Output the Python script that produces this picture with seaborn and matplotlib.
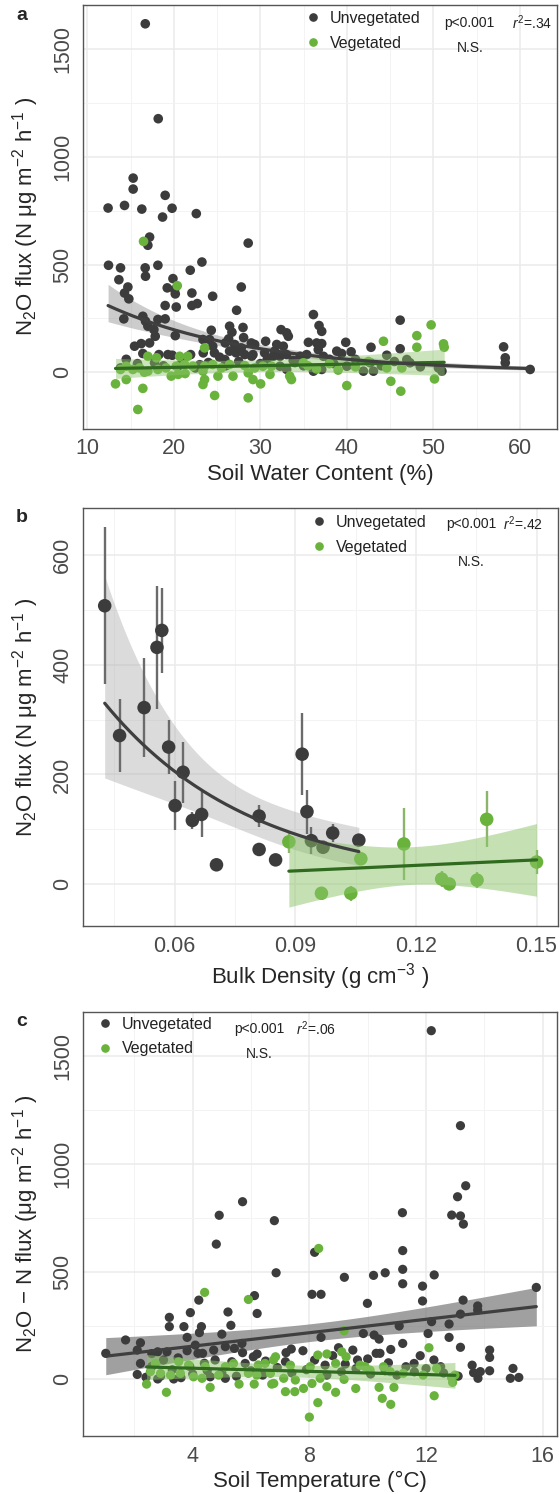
import numpy as np
import pandas as pd
import seaborn as sns
import matplotlib
matplotlib.use("Agg")
import matplotlib.pyplot as plt
from matplotlib.lines import Line2D

# ---------------- Panel a: Soil water content ----------------
a_unveg_x = [16.7, 18.2, 15.3, 15.3, 19.0, 12.4, 14.3, 16.3, 19.8, 18.7, 22.6, 17.2, 17.0, 28.6,
             12.45, 13.84, 16.69, 18.16, 16.73, 23.25, 21.9, 13.65, 19.9, 14.69, 14.3, 14.8, 19.24,
             20.09, 20.17, 22.09, 24.49, 27.8, 19.0, 20.28, 22.09, 22.71, 27.26, 14.22, 16.42, 16.73,
             17.0, 18.16, 19.0, 17.7, 17.85, 20.17, 24.33, 26.45, 28.0, 26.72, 26.34, 28.07, 28.96,
             30.62, 23.37, 24.14, 15.46, 16.23, 17.2, 24.5, 25.95, 27.03, 26.45, 27.8, 29.35, 16.42,
             18.28, 19.32, 19.82, 21.94, 23.4, 24.7, 27.2, 28.2, 29.15, 30.5, 31.66, 13.84, 17.77,
             20.5, 25.9, 29.0,
             36.14, 36.79, 37.1, 32.4, 33.05, 33.24, 31.9, 32.66, 35.56, 36.52, 37.1, 36.7, 39.88,
             38.84, 39.4, 42.8, 46.17, 46.17, 44.62, 46.94, 58.13, 58.32, 58.32, 61.2, 31.5, 32.28,
             33.05, 34.6, 35.36, 37.3, 32.28, 33.05, 36.14, 37.1, 40.0, 41.92, 42.7, 43.08, 47.3,
             50.6, 51.0, 38.0, 40.5, 34.0, 30.0, 26.0, 23.0,
             14.5, 15.8, 18.8, 21.0, 22.5, 24.0, 25.3, 27.5, 30.8, 33.8, 35.0, 38.5, 41.0, 44.0,
             45.5, 48.5]
a_unveg_y = [1619, 1178, 902, 851, 822, 763, 775, 758, 762, 721, 737, 628, 590, 600,
             497, 485, 485, 497, 446, 512, 474, 430, 435, 396, 368, 341, 392,
             384, 364, 368, 353, 396, 310, 303, 310, 319, 288, 248, 260, 237,
             214, 245, 248, 198, 167, 170, 195, 214, 208, 186, 155, 161, 136,
             144, 152, 152, 121, 133, 136, 121, 136, 129, 98, 113, 129, 87,
             82, 82, 79, 82, 90, 90, 90, 82, 82, 90, 98, 20, 44,
             28, 59, 74,
             268, 217, 190, 198, 183, 167, 129, 121, 139, 136, 133, 105, 139,
             98, 87, 116, 242, 109, 79, 59, 118, 67, 44, 13, 74, 74,
             82, 74, 82, 74, 28, 13, 5, 13, 28, 5, 44, 5, 44,
             20, 5, 60, 95, 45, 40, 30, 35,
             60, 40, 30, 55, 20, 45, 70, 50, 60, 55, 30, 40, 60, 30,
             50, 25]
a_veg_x = [16.5, 20.4, 17.0, 18.0, 20.67, 21.6, 23.56, 13.84, 14.5, 15.27, 16.04, 17.0, 18.16, 19.1,
           20.28, 21.25, 22.2, 23.56, 24.5, 25.5, 26.45, 28.2, 29.35, 30.3, 31.3, 13.26, 14.5, 16.6,
           19.7, 20.5, 21.3, 23.37, 25.1, 26.84, 28.6, 29.15, 30.04, 16.42, 23.37, 23.56, 24.72,
           28.6, 15.84, 44.24, 48.1, 49.75, 48.1, 51.18, 51.26, 44.62, 46.36, 34.98, 40.0, 33.6,
           33.4, 45.09, 46.24, 50.14, 31.12, 35.5, 38.0, 41.0, 42.5, 36.5, 39.0]
a_veg_y = [608, 402, 74, 67, 74, 74, 113, 13, 28, 13, 20, 5, 13, 20,
           28, 36, 28, 28, 36, 20, 36, 31, 20, 28, 28, -54, -34, 0,
           -18, -10, -6, 5, -18, -18, -3, -34, -54, -75, -57, -34, -108,
           -119, -173, 144, 170, 220, 116, 132, 116, 20, 20, 44, -62, -34,
           -18, -42, -88, -31, -10, 30, 40, 25, 50, 15, 10]

# ---------------- Panel b: Bulk density (means +/- error) ----------------
b_unveg_x = [0.0426, 0.0463, 0.0524, 0.0556, 0.0568, 0.0585, 0.0621, 0.0601, 0.0644, 0.0667,
             0.0704, 0.0810, 0.0810, 0.0851, 0.0917, 0.0929, 0.0940, 0.0969, 0.0993, 0.1058]
b_unveg_y = [508, 271, 322, 432, 463, 250, 204, 143, 116, 127, 35, 124, 63, 44, 237, 132, 79, 67, 93, 80]
b_unveg_err = [143, 67, 90, 112, 78, 50, 56, 45, 15, 42, 6, 20, 12, 5, 75, 40, 25, 12, 17, 10]
b_veg_x = [0.0884, 0.0965, 0.1038, 0.1063, 0.1170, 0.1264, 0.1283, 0.1352, 0.1376, 0.1500]
b_veg_y = [77, -17, -17, 46, 73, 9, 0, 7, 118, 40]
b_veg_err = [20, 10, 14, 8, 65, 15, 10, 15, 51, 22]

# ---------------- Panel c: Soil temperature ----------------
c_unveg_x = [12.18, 13.18, 13.36, 13.08, 12.88, 13.18, 13.28, 11.19, 5.71, 4.91, 6.80,
             4.81, 6.86, 6.12, 4.21, 6.21, 3.2, 3.92, 5.21, 3.2, 3.7, 5.31, 4.3, 4.23, 5.0, 3.81,
             1.70, 2.21, 1.02, 2.1, 2.8, 3.12, 3.81, 4.09, 4.18, 4.34, 4.72, 5.12, 5.43, 5.69, 5.71,
             6.21, 2.21, 2.1, 2.8, 3.35, 4.77, 5.34, 5.12, 5.8, 6.08, 3.3, 3.9, 4.5, 2.6,
             8.18, 11.2, 9.2, 10.2, 10.6, 11.2, 11.2, 11.88, 12.28, 8.09, 8.4, 11.88, 9.99, 13.27,
             13.77, 13.77, 13.18, 15.78, 11.08, 12.19, 12.79, 12.07, 12.79, 13.18, 11.2, 10.79, 9.0,
             8.4, 9.85, 10.22, 10.39, 10.29, 10.42, 9.49, 9.65, 7.78, 7.2, 7.38, 7.18, 8.18, 8.54,
             9.23, 10.71, 11.59, 11.31, 12.27, 12.5, 13.58, 13.63, 13.78, 14.18, 14.18, 14.18, 13.86,
             14.98, 14.89, 15.18,
             2.4, 2.9, 3.6, 4.0, 4.6, 5.0, 5.5, 6.0, 6.4, 6.9, 7.4, 7.9, 8.6, 9.1, 9.6, 10.1, 10.6,
             11.0, 11.6, 12.0, 12.6, 13.1, 3.5, 4.4, 6.5, 8.8, 10.0, 11.8, 2.6, 3.0]
c_unveg_y = [1619, 1178, 899, 848, 763, 759, 721, 774, 825, 762, 737,
             628, 495, 389, 368, 306, 288, 310, 313, 245, 245, 251, 245, 217, 210, 195,
             183, 170, 121, 136, 128, 128, 133, 159, 121, 121, 136, 152, 144, 167, 124,
             118, 74, 23, 2, 2, 90, 82, 5, 74, 105, 45, 60, 40, 60,
             590, 598, 474, 483, 495, 511, 444, 433, 485, 395, 395, 364, 353, 368,
             341, 322, 303, 427, 248, 268, 257, 213, 195, 149, 167, 139, 147,
             195, 213, 206, 187, 121, 121, 136, 90, 133, 124, 141, 82, 90, 66,
             71, 77, 74, 59, 90, 59, 66, 31, 5, 136, 102, 40, 36,
             51, 5, 9,
             10, 15, 8, 25, 12, 30, 15, 40, 20, 55, 30, 45, 20, 35, 50, 25, 40,
             20, 35, 50, 30, 15, 100, 75, 85, 110, 95, 110, 120, 90]
c_veg_x = [4.41, 5.91, 8.32, 9.19, 12.1, 2.42, 3.1, 4.6, 5.59, 6.11, 6.71, 2.55, 2.9, 3.24, 3.58,
           4.03, 4.32, 4.89, 5.4, 5.91, 6.25, 6.48, 6.77, 2.72, 3.52, 3.86, 4.43, 5.12, 6.2, 8.29,
           8.6, 9.11, 9.26, 8.03, 8.9, 9.74, 9.91, 10.08, 10.54, 10.77, 11.22, 11.9, 12.36, 12.87,
           12.99, 12.91, 12.28, 6.665, 7.12, 7.52, 7.18, 7.5, 7.8, 8.09, 8.6, 8.9, 8.37, 9.19, 9.59,
           10.39, 10.9, 10.5, 10.79, 8.29, 8.0, 6.84, 7.35, 6.78]
c_veg_y = [404, 371, 608, 226, 147, -22, -60, -37, -22, -22, -22, 36, 28, 20, 28,
           12, 5, 20, 74, 28, 67, 74, 90, 74, 82, 67, 59, 59, 20, 113,
           118, 128, 105, 59, 74, 66, 59, 43, 59, 36, 28, 20, 51, 9,
           20, -14, -76, 28, 5, -3, -57, -57, -42, -19, -34, -60, 5, 0, -42,
           -37, -37, -88, -116, -108, -175, 105, 66, -19]

groups = ["Unvegetated", "Vegetated"]
stats_a = ["p<0.001", r"$\mathit{r}^2$=.34", "N.S."]
stats_b = ["p<0.001", r"$\mathit{r}^2$=.42", "N.S."]
stats_c = ["p<0.001", r"$\mathit{r}^2$=.06", "N.S."]

# ---------------- style ----------------
sns.set_style("white")
plt.rcParams['font.family'] = ['Liberation Sans', 'DejaVu Sans']
plt.rcParams['mathtext.fontset'] = 'custom'
plt.rcParams['mathtext.rm'] = 'Liberation Sans'
plt.rcParams['mathtext.it'] = 'Liberation Sans:italic'
plt.rcParams['mathtext.default'] = 'regular'

DARK = "#3c3c3c"
GREEN = "#69b23c"
DARKLINE = "#3f3f3f"
GREENLINE = "#2f6a1f"
palette = {"Unvegetated": DARK, "Vegetated": GREEN}


def t_crit(df, z=1.959964):
    return z + (z**3 + z) / (4 * df) + (5 * z**5 + 16 * z**3 + 3 * z) / (96 * df**2)


def lm_fit(x, y, n=200, log=False):
    """OLS fit with 95% confidence band; if log, fit log(y) and back-transform."""
    x = np.asarray(x, float); y = np.asarray(y, float)
    yy = np.log(y) if log else y
    X = np.column_stack([np.ones_like(x), x])
    beta = np.linalg.lstsq(X, yy, rcond=None)[0]
    res = yy - X @ beta
    s2 = np.sum(res ** 2) / (len(y) - 2)
    cov = s2 * np.linalg.inv(X.T @ X)
    xs = np.linspace(x.min(), x.max(), n)
    Xs = np.column_stack([np.ones_like(xs), xs])
    fit = Xs @ beta
    se = np.sqrt(np.sum((Xs @ cov) * Xs, axis=1))
    t = t_crit(len(y) - 2)
    lo, hi = fit - t * se, fit + t * se
    if log:
        return xs, np.exp(fit), np.exp(lo), np.exp(hi)
    return xs, fit, lo, hi


def make_df(ux, uy, vx, vy):
    return pd.DataFrame({
        "x": list(ux) + list(vx),
        "y": list(uy) + list(vy),
        "grp": [groups[0]] * len(ux) + [groups[1]] * len(vx),
    })


def style_axes(ax, xlim, ylim, xmaj, xmin, ymaj, ymin, xfmt):
    ax.set_xlim(*xlim); ax.set_ylim(*ylim)
    ax.set_xticks(xmaj); ax.set_xticks(xmin, minor=True)
    ax.set_yticks(ymaj); ax.set_yticks(ymin, minor=True)
    ax.set_xticklabels([xfmt(v) for v in xmaj])
    ax.set_yticklabels([str(v) for v in ymaj], rotation=90, va="center")
    ax.grid(which="major", color="#ebebeb", lw=1.1)
    ax.grid(which="minor", color="#f3f3f3", lw=0.7)
    ax.set_axisbelow(True)
    for s in ax.spines.values():
        s.set_color("#555555"); s.set_linewidth(1.0)
    ax.tick_params(which="major", length=4, width=0.9, color="#444444",
                   labelsize=15.5, labelcolor="#4a4a4a", pad=3)
    ax.tick_params(which="minor", length=0)


def add_legend(ax, hx, hy, stats, sx, sy_top, sy_bot, r2x):
    handles = [Line2D([], [], marker="o", ls="none", color=DARK, markersize=5.2),
               Line2D([], [], marker="o", ls="none", color=GREEN, markersize=5.2)]
    ax.legend(handles, groups, loc="upper left", bbox_to_anchor=(hx, hy), frameon=False,
              fontsize=11.5, handlelength=1.0, handletextpad=0.55, labelspacing=0.6,
              borderpad=0, borderaxespad=0, labelcolor="#222222")
    ax.text(sx, sy_top, stats[0], transform=ax.transAxes, fontsize=10, va="center", color="#222222")
    ax.text(r2x, sy_top, stats[1], transform=ax.transAxes, fontsize=10, va="center", color="#222222")
    ax.text(sx + 0.025, sy_bot, stats[2], transform=ax.transAxes, fontsize=10, va="center", color="#222222")


fig = plt.figure(figsize=(5.6, 14.94), dpi=100)
axA = fig.add_axes([0.1482, 0.7131, 0.8464, 0.2838])
axB = fig.add_axes([0.1482, 0.3802, 0.8480, 0.2796])
axC = fig.add_axes([0.1482, 0.0388, 0.8470, 0.2840])

# ---- panel a ----
dfa = make_df(a_unveg_x, a_unveg_y, a_veg_x, a_veg_y)
sns.scatterplot(data=dfa, x="x", y="y", hue="grp", palette=palette, s=48, linewidth=0,
                legend=False, ax=axA, zorder=3)
xs, f, lo, hi = lm_fit(a_unveg_x, a_unveg_y, log=True)
axA.fill_between(xs, lo, hi, color="#9a9a9a", alpha=0.5, lw=0, zorder=2.5)
axA.plot(xs, f, color=DARKLINE, lw=2.3, zorder=6)
xs, f, lo, hi = lm_fit(a_veg_x, a_veg_y)
axA.fill_between(xs, lo, hi, color="#8cc56a", alpha=0.45, lw=0, zorder=4)
axA.plot(xs, f, color=GREENLINE, lw=2.3, zorder=5)
style_axes(axA, (9.5, 64.3), (-262, 1708), [10, 20, 30, 40, 50, 60], [15, 25, 35, 45, 55],
           [0, 500, 1000, 1500], [250, 750, 1250], lambda v: str(v))
axA.set_xlabel("Soil Water Content (%)", fontsize=16, labelpad=3)
axA.set_ylabel("N$_2$O flux (N μg m$^{-2}$ h$^{-1}$ )", fontsize=16, labelpad=8)
add_legend(axA, 0.468, 0.985, stats_a, 0.763, 0.957, 0.898, 0.906)

# ---- panel b ----
axB.errorbar(b_unveg_x, b_unveg_y, yerr=b_unveg_err, fmt="none", ecolor="#6b6b6b", elinewidth=1.7, zorder=2.6)
axB.errorbar(b_veg_x, b_veg_y, yerr=b_veg_err, fmt="none", ecolor="#8db56a", elinewidth=1.7, zorder=2.6)
dfb = make_df(b_unveg_x, b_unveg_y, b_veg_x, b_veg_y)
sns.scatterplot(data=dfb, x="x", y="y", hue="grp", palette=palette, s=95, linewidth=0,
                legend=False, ax=axB, zorder=3)
xs, f, lo, hi = lm_fit(b_unveg_x, b_unveg_y, log=True)
axB.fill_between(xs, lo, hi, color="#b0b0b0", alpha=0.45, lw=0, zorder=2.5)
axB.plot(xs, f, color=DARKLINE, lw=2.3, zorder=6)
xs, f, lo, hi = lm_fit(b_veg_x, b_veg_y)
axB.fill_between(xs, lo, hi, color="#8cc56a", alpha=0.5, lw=0, zorder=4)
axB.plot(xs, f, color=GREENLINE, lw=2.3, zorder=5)
style_axes(axB, (0.0372, 0.1553), (-76.7, 686), [0.06, 0.09, 0.12, 0.15], [0.045, 0.075, 0.105, 0.135],
           [0, 200, 400, 600], [100, 300, 500], lambda v: f"{v:.2f}")
axB.set_xlabel("Bulk Density (g cm$^{-3}$ )", fontsize=16, labelpad=3)
axB.set_ylabel("N$_2$O flux (N μg m$^{-2}$ h$^{-1}$ )", fontsize=16, labelpad=8)
add_legend(axB, 0.48, 0.984, stats_b, 0.764, 0.962, 0.872, 0.884)

# ---- panel c ----
dfc = make_df(c_unveg_x, c_unveg_y, c_veg_x, c_veg_y)
sns.scatterplot(data=dfc, x="x", y="y", hue="grp", palette=palette, s=44, linewidth=0,
                legend=False, ax=axC, zorder=3)
xs, f, lo, hi = lm_fit(c_unveg_x, c_unveg_y)
axC.fill_between(xs, lo, hi, color="#6e6e6e", alpha=0.65, lw=0, zorder=2.5)
axC.plot(xs, f, color=DARKLINE, lw=2.3, zorder=6)
xs, f, lo, hi = lm_fit(c_veg_x, c_veg_y)
axC.fill_between(xs, lo, hi, color="#8cc56a", alpha=0.5, lw=0, zorder=4)
axC.plot(xs, f, color=GREENLINE, lw=2.3, zorder=5)
style_axes(axC, (0.24, 16.5), (-263, 1707), [4, 8, 12, 16], [2, 6, 10, 14],
           [0, 500, 1000, 1500], [250, 750, 1250], lambda v: str(v))
axC.set_xlabel("Soil Temperature (°C)", fontsize=16, labelpad=3)
axC.set_ylabel("N$_2$O − N flux (μg m$^{-2}$ h$^{-1}$ )", fontsize=16, labelpad=8)
add_legend(axC, 0.03, 0.988, stats_c, 0.318, 0.9595, 0.9006, 0.449)

for lab, py in [("a", 15), ("b", 517), ("c", 1021)]:
    fig.text(16 / 560, 1 - py / 1494, lab, fontsize=14, fontweight="bold", ha="left", va="center")

fig.savefig("out.png", dpi=100)
